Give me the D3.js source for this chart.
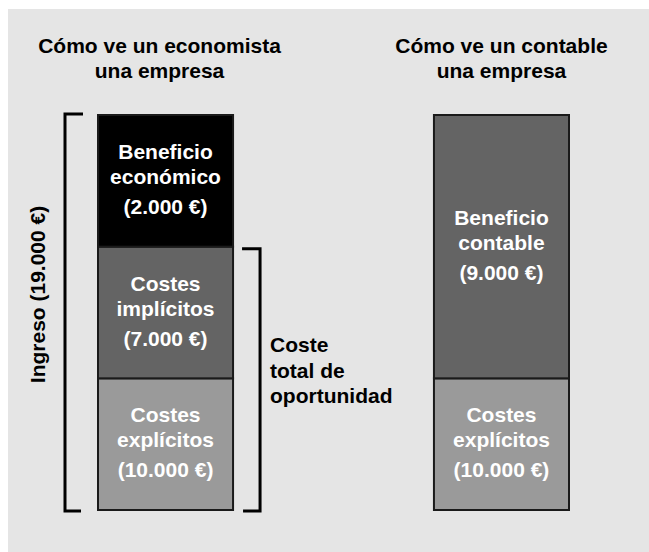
<!DOCTYPE html>
<html>
<head lang="es">
    <meta charset="UTF-8">
    <title>Beneficio económico y contable</title>
    <script type="text/javascript" src="https://cdn.jsdelivr.net/npm/d3@7/dist/d3.min.js"></script>
    <style>
        body { margin: 0; background: #fff; }
        text { font-family: "Liberation Sans", Arial, sans-serif; font-weight: bold; font-size: 21px; }
    </style>
</head>
<body>
<div class="holder"></div>

<script>
    // data: each bar stacked from the bottom up
    var titles = [["Cómo ve un economista", "una empresa"], ["Cómo ve un contable", "una empresa"]];
    var econLabels = [["Costes", "explícitos", "(10.000 €)"], ["Costes", "implícitos", "(7.000 €)"], ["Beneficio", "económico", "(2.000 €)"]];
    var econValues = [10000, 7000, 2000];
    var contLabels = [["Costes", "explícitos", "(10.000 €)"], ["Beneficio", "contable", "(9.000 €)"]];
    var contValues = [10000, 9000];
    // the diagram is schematic: each block counts as a number of equal slots
    var econSlots = [1, 1, 1];
    var contSlots = [1, 2];
    var incomeLabel = "Ingreso (19.000 €)";
    var costLabel = ["Coste", "total de", "oportunidad"];

    var fills = {"Costes explícitos": "#9a9a9a", "Costes implícitos": "#646464",
                 "Beneficio económico": "#000000", "Beneficio contable": "#646464"};

    var svg = d3.select(".holder")
            .append("svg")
            .attr("width", 649)
            .attr("height", 552);

    svg.append("rect")
            .attr("x", 8).attr("y", 9)
            .attr("width", 641).attr("height", 543)
            .attr("fill", "#e5e5e5");

    var x = d3.scaleBand().domain([0, 1]).range([98, 569]).paddingInner(0.598).paddingOuter(0);
    var y = d3.scaleLinear().domain([0, 3]).range([510, 115]);

    function stack(values, slots, labels) {
        var acc = 0;
        return values.map(function(v, i) {
            var d = {value: v, y0: acc, y1: acc + slots[i], lines: labels[i]};
            acc += slots[i];
            return d;
        });
    }

    var bars = [stack(econValues, econSlots, econLabels), stack(contValues, contSlots, contLabels)];

    bars.forEach(function(segs, b) {
        var g = svg.append("g");
        var cx = x(b) + x.bandwidth() / 2;

        g.selectAll("rect")
                .data(segs)
                .enter()
                .append("rect")
                .attr("x", x(b))
                .attr("y", function(d) {return y(d.y1);})
                .attr("width", x.bandwidth())
                .attr("height", function(d) {return y(d.y0) - y(d.y1);})
                .attr("fill", function(d) {return fills[d.lines[0] + " " + d.lines[1]];})
                .attr("stroke", "#1a1a1a")
                .attr("stroke-width", 2);

        var offs = [-22, 3, 33];
        g.selectAll("text.seg")
                .data(segs)
                .enter()
                .append("text")
                .attr("class", "seg")
                .attr("text-anchor", "middle")
                .attr("fill", "#fff")
                .selectAll("tspan")
                .data(function(d) {
                    var c = (y(d.y0) + y(d.y1)) / 2;
                    return d.lines.map(function(t, i) {return {t: t, y: c + offs[i]};});
                })
                .enter()
                .append("tspan")
                .attr("x", cx)
                .attr("y", function(d) {return d.y;})
                .text(function(d) {return d.t;});

        svg.append("text")
                .attr("text-anchor", "middle")
                .attr("fill", "#000")
                .selectAll("tspan")
                .data(titles[b])
                .enter()
                .append("tspan")
                .attr("x", cx - (b === 0 ? 6 : 0))
                .attr("y", function(d, i) {return 53 + i * 25;})
                .text(function(d) {return d;});
    });

    // brackets
    var barLeft = x(0), barRight = x(0) + x.bandwidth();
    var yTop = y(3) - 1, yBottom = y(0) + 1;
    svg.append("path")
            .attr("d", "M" + (barLeft - 15) + "," + yTop + "H" + (barLeft - 33) + "V" + yBottom + "H" + (barLeft - 17))
            .attr("fill", "none").attr("stroke", "#000").attr("stroke-width", 3);

    var costTop = y(2) + 2;
    svg.append("path")
            .attr("d", "M" + (barRight + 9) + "," + costTop + "H" + (barRight + 27) + "V" + yBottom + "H" + (barRight + 10))
            .attr("fill", "none").attr("stroke", "#000").attr("stroke-width", 3);

    svg.append("text")
            .attr("text-anchor", "middle")
            .attr("transform", "translate(45," + ((yTop + yBottom) / 2 - 18) + ") rotate(-90)")
            .text(incomeLabel);

    svg.append("text")
            .selectAll("tspan")
            .data(costLabel)
            .enter()
            .append("tspan")
            .attr("x", barRight + 37)
            .attr("y", function(d, i) {return 352 + i * 25.5;})
            .text(function(d) {return d;});
</script>
</body>
</html>
